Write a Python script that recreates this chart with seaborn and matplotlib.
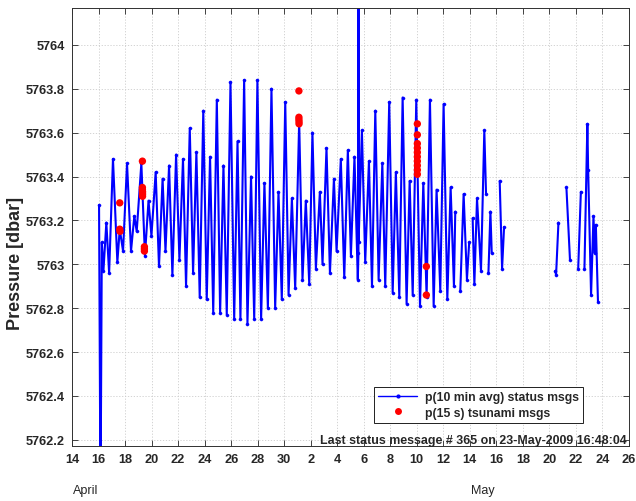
import numpy as np
import pandas as pd
import matplotlib
matplotlib.use("Agg")
import matplotlib.pyplot as plt
import seaborn as sns
from matplotlib.lines import Line2D

# ---- data (day numbers counted from 1 April 2009; May d = 30 + d) ----
status_day = [16.04, 16.15, 16.25, 16.37, 16.59, 16.80, 17.09, 17.42, 17.60, 17.85,
              18.15, 18.45, 18.70, 18.88, 19.23, 19.50, 19.77, 19.99, 20.31, 20.56,
              20.83, 21.05, 21.32, 21.57, 21.85, 22.10, 22.37, 22.60, 22.88, 23.13,
              23.38, 23.63, 23.90, 24.16, 24.41, 24.65, 24.92, 25.17, 25.42, 25.67,
              25.95, 26.23, 26.48, 26.70, 26.98, 27.23, 27.50, 27.74, 27.98, 28.26,
              28.51, 28.77, 29.04, 29.32, 29.57, 29.82, 30.08, 30.33, 30.58, 30.83,
              31.13, 31.38, 31.63, 31.89, 32.13, 32.39, 32.69, 32.89, 33.19, 33.45,
              33.75, 33.95, 34.27, 34.53, 34.80, 35.03, 35.30, 35.55, 35.60, 35.605,
              35.61, 35.86, 36.11, 36.39, 36.62, 36.87, 37.12, 37.40, 37.62, 37.92,
              38.18, 38.42, 38.68, 38.93, 39.23, 39.46, 39.69, 39.96, 40.24, 40.49,
              40.74, 40.99, 41.27, 41.49, 41.77, 42.02, 42.30, 42.55, 42.80, 42.90,
              42.95,
              43.28, 43.53, 43.78, 43.95,
              44.00,
              44.21, 44.34, 44.54, 44.84, 45.09, 45.22,
              45.30,
              45.40, 45.55, 45.65,
              46.00,
              46.25, 46.43, 46.58,
              48.00,
              50.45, 50.50, 50.68,
              51.00,
              51.28, 51.55,
              52.00,
              52.17, 52.37,
              52.50,
              52.64, 52.86, 52.92, 53.14, 53.32, 53.42, 53.50, 53.66]
status_p = [5763.27, 5761.90, 5763.10, 5762.97, 5763.19, 5762.96, 5763.48, 5763.01, 5763.16, 5763.06,
            5763.46, 5763.06, 5763.22, 5763.15, 5763.46, 5763.04, 5763.29, 5763.13, 5763.42, 5762.99,
            5763.39, 5763.06, 5763.45, 5762.95, 5763.50, 5763.02, 5763.48, 5762.90, 5763.62, 5762.96,
            5763.51, 5762.85, 5763.70, 5762.84, 5763.49, 5762.78, 5763.75, 5762.78, 5763.45, 5762.77,
            5763.83, 5762.75, 5763.56, 5762.75, 5763.84, 5762.73, 5763.40, 5762.75, 5763.84, 5762.75,
            5763.37, 5762.80, 5763.80, 5762.80, 5763.33, 5762.84, 5763.74, 5762.86, 5763.30, 5762.89,
            5763.65, 5762.93, 5763.29, 5762.91, 5763.60, 5762.98, 5763.33, 5763.00, 5763.53, 5762.96,
            5763.39, 5763.06, 5763.48, 5762.94, 5763.52, 5763.04, 5763.49, 5762.93, 5763.05, 5765.00,
            5763.10, 5763.61, 5763.01, 5763.47, 5762.90, 5763.70, 5762.93, 5763.46, 5762.90, 5763.74,
            5762.87, 5763.42, 5762.85, 5763.76, 5762.82, 5763.38, 5762.86, 5763.75, 5762.81, 5763.37,
            5762.85, 5763.75, 5762.81, 5763.34, 5762.88, 5763.73, 5762.84, 5763.35, 5762.90, 5763.24,
            None,
            5762.88, 5763.32, 5762.93, 5763.10,
            None,
            5763.21, 5762.91, 5763.30, 5762.97, 5763.61, 5763.32,
            None,
            5762.96, 5763.24, 5763.05,
            None,
            5763.38, 5762.98, 5763.17,
            None,
            5762.97, 5762.95, 5763.19,
            None,
            5763.35, 5763.02,
            None,
            5762.98, 5763.33,
            None,
            5762.98, 5763.64, 5763.43, 5762.86, 5763.22, 5763.05, 5763.18, 5762.83]

tsunami_day = [17.60, 17.60, 17.62,
               19.31, 19.31, 19.31, 19.32, 19.32, 19.32, 19.46, 19.46, 19.46,
               31.11, 31.11, 31.11, 31.12, 31.12,
               40.04, 40.04, 40.04, 40.04, 40.04, 40.04, 40.04, 40.04, 40.04, 40.04,
               40.72, 40.72]
tsunami_p = [5763.28, 5763.16, 5763.15,
             5763.47, 5763.35, 5763.34, 5763.33, 5763.32, 5763.31, 5763.08, 5763.07, 5763.06,
             5763.79, 5763.67, 5763.66, 5763.65, 5763.64,
             5763.64, 5763.59, 5763.55, 5763.53, 5763.51, 5763.49, 5763.47, 5763.45, 5763.43, 5763.41,
             5762.99, 5762.86]

xtick_pos = [14, 16, 18, 20, 22, 24, 26, 28, 30, 32, 34, 36, 38, 40, 42, 44, 46, 48, 50, 52, 54, 56]
xtick_labels = ["14", "16", "18", "20", "22", "24", "26", "28", "30", "2", "4", "6", "8",
                "10", "12", "14", "16", "18", "20", "22", "24", "26"]
ytick_pos = [5762.2, 5762.4, 5762.6, 5762.8, 5763.0, 5763.2, 5763.4, 5763.6, 5763.8, 5764.0]
ytick_labels = ["5762.2", "5762.4", "5762.6", "5762.8", "5763", "5763.2", "5763.4",
                "5763.6", "5763.8", "5764"]
month_labels = ["April", "May"]
legend_labels = ["p(10 min avg) status msgs", "p(15 s) tsunami msgs"]
status_text = "Last status message # 365 on 23-May-2009 16:48:04"

# ---- build tables ----
df = pd.DataFrame({"day": status_day, "p": pd.array(status_p, dtype="Float64").astype(float)})
df["seg"] = df["p"].isna().cumsum()
df = df.dropna()
tdf = pd.DataFrame({"day": tsunami_day, "p": tsunami_p})

sns.set_style("ticks")
plt.rcParams["font.family"] = ["Liberation Sans", "DejaVu Sans"]

fig = plt.figure(figsize=(6.36, 5.02), dpi=100)
ax = fig.add_axes([0.1132, 0.110, 0.8758, 0.873])

sns.lineplot(data=df, x="day", y="p", units="seg", estimator=None, sort=False,
             color="#0000ff", lw=1.5, marker=".", markersize=4.5,
             markeredgecolor="#0000ff", markerfacecolor="#0000ff", markeredgewidth=0.3,
             legend=False, ax=ax, zorder=2)
sns.scatterplot(data=tdf, x="day", y="p", color="#ff0000", s=28, edgecolor="none",
                legend=False, ax=ax, zorder=3)

ax.set_xlim(14, 56)
ax.set_ylim(5762.173, 5764.17)
ax.set_xticks(xtick_pos)
ax.set_xticklabels(xtick_labels, fontsize=9.2, fontweight="bold")
ax.set_yticks(ytick_pos)
ax.set_yticklabels(ytick_labels, fontsize=9.2, fontweight="bold")
ax.set_xlabel("")
ax.set_ylabel("")
ax.tick_params(direction="in", top=True, right=True, length=4, width=0.6, pad=5)
ax.grid(True, linestyle=(0, (1.5, 2)), color="#cccccc", linewidth=0.6)
for s in ax.spines.values():
    s.set_linewidth(0.7)
    s.set_color("#303030")

fig.text(0.025, 1 - 263 / 502, "Pressure [dbar]", rotation=90, ha="center", va="center",
         fontsize=13, fontweight="bold")
fig.text(73 / 636, 1 - 491 / 502, month_labels[0], ha="left", va="center", fontsize=9)
fig.text(483 / 636, 1 - 491 / 502, month_labels[1], ha="center", va="center", fontsize=9)

ax.text(0.996, 0.013, status_text, transform=ax.transAxes, ha="right", va="center",
        fontsize=8.9, fontweight="bold", zorder=5)

handles = [Line2D([], [], color="#0000ff", lw=1, marker=".", markersize=4),
           Line2D([], [], color="#ff0000", lw=0, marker="o", markersize=5, markeredgewidth=0)]
leg = ax.legend(handles, legend_labels, loc="upper left", bbox_to_anchor=(0.531, 0.149),
                frameon=True, fancybox=False, framealpha=1, edgecolor="#202020",
                prop={"size": 8.8, "weight": "bold"}, handlelength=3.2,
                borderpad=0.35, labelspacing=0.3, handletextpad=0.6)
leg.get_frame().set_linewidth(0.7)

fig.savefig("out.png", dpi=100)
